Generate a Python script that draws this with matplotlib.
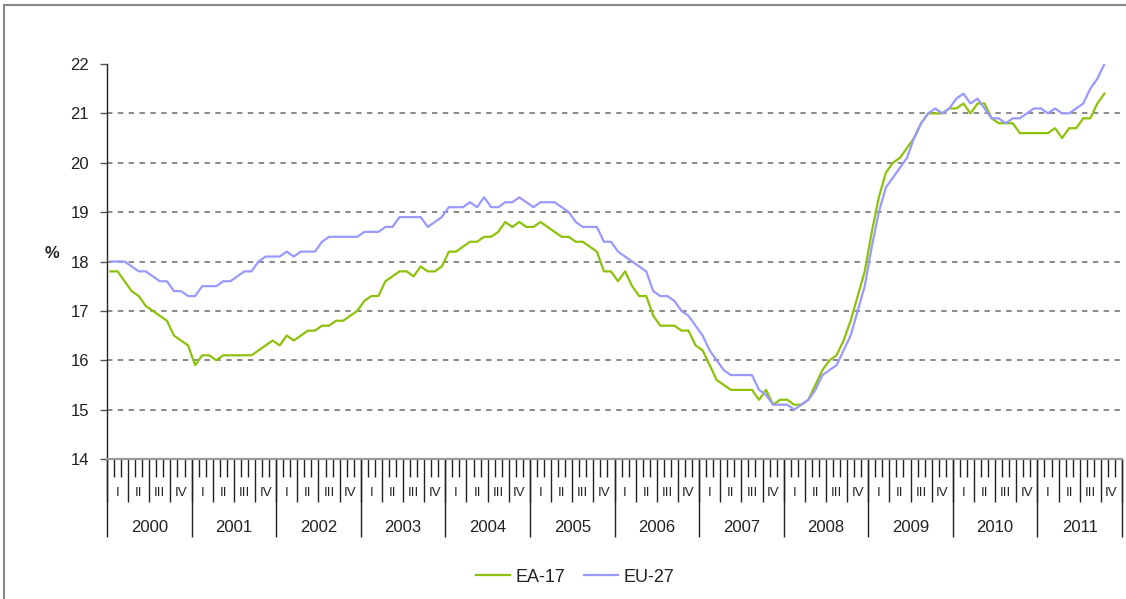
import matplotlib
matplotlib.use("Agg")
import matplotlib.pyplot as plt
from matplotlib.lines import Line2D
import numpy as np

plt.rcParams['font.family'] = ['Liberation Sans', 'DejaVu Sans']

years = ['2000', '2001', '2002', '2003', '2004', '2005', '2006', '2007', '2008', '2009', '2010', '2011']
quarters = ['I', 'II', 'III', 'IV']

# Monthly youth unemployment rate (%), Jan 2000 - Oct 2011
ea17 = [17.8, 17.8, 17.6, 17.4, 17.3, 17.1, 17.0, 16.9, 16.8, 16.5, 16.4, 16.3,
        15.9, 16.1, 16.1, 16.0, 16.1, 16.1, 16.1, 16.1, 16.1, 16.2, 16.3, 16.4,
        16.3, 16.5, 16.4, 16.5, 16.6, 16.6, 16.7, 16.7, 16.8, 16.8, 16.9, 17.0,
        17.2, 17.3, 17.3, 17.6, 17.7, 17.8, 17.8, 17.7, 17.9, 17.8, 17.8, 17.9,
        18.2, 18.2, 18.3, 18.4, 18.4, 18.5, 18.5, 18.6, 18.8, 18.7, 18.8, 18.7,
        18.7, 18.8, 18.7, 18.6, 18.5, 18.5, 18.4, 18.4, 18.3, 18.2, 17.8, 17.8,
        17.6, 17.8, 17.5, 17.3, 17.3, 16.9, 16.7, 16.7, 16.7, 16.6, 16.6, 16.3,
        16.2, 15.9, 15.6, 15.5, 15.4, 15.4, 15.4, 15.4, 15.2, 15.4, 15.1, 15.2,
        15.2, 15.1, 15.1, 15.2, 15.5, 15.8, 16.0, 16.1, 16.4, 16.8, 17.3, 17.8,
        18.6, 19.3, 19.8, 20.0, 20.1, 20.3, 20.5, 20.8, 21.0, 21.0, 21.0, 21.1,
        21.1, 21.2, 21.0, 21.2, 21.2, 20.9, 20.8, 20.8, 20.8, 20.6, 20.6, 20.6,
        20.6, 20.6, 20.7, 20.5, 20.7, 20.7, 20.9, 20.9, 21.2, 21.4]

eu27 = [18.0, 18.0, 18.0, 17.9, 17.8, 17.8, 17.7, 17.6, 17.6, 17.4, 17.4, 17.3,
        17.3, 17.5, 17.5, 17.5, 17.6, 17.6, 17.7, 17.8, 17.8, 18.0, 18.1, 18.1,
        18.1, 18.2, 18.1, 18.2, 18.2, 18.2, 18.4, 18.5, 18.5, 18.5, 18.5, 18.5,
        18.6, 18.6, 18.6, 18.7, 18.7, 18.9, 18.9, 18.9, 18.9, 18.7, 18.8, 18.9,
        19.1, 19.1, 19.1, 19.2, 19.1, 19.3, 19.1, 19.1, 19.2, 19.2, 19.3, 19.2,
        19.1, 19.2, 19.2, 19.2, 19.1, 19.0, 18.8, 18.7, 18.7, 18.7, 18.4, 18.4,
        18.2, 18.1, 18.0, 17.9, 17.8, 17.4, 17.3, 17.3, 17.2, 17.0, 16.9, 16.7,
        16.5, 16.2, 16.0, 15.8, 15.7, 15.7, 15.7, 15.7, 15.4, 15.3, 15.1, 15.1,
        15.1, 15.0, 15.1, 15.2, 15.4, 15.7, 15.8, 15.9, 16.2, 16.5, 17.0, 17.5,
        18.3, 19.0, 19.5, 19.7, 19.9, 20.1, 20.5, 20.8, 21.0, 21.1, 21.0, 21.1,
        21.3, 21.4, 21.2, 21.3, 21.1, 20.9, 20.9, 20.8, 20.9, 20.9, 21.0, 21.1,
        21.1, 21.0, 21.1, 21.0, 21.0, 21.1, 21.2, 21.5, 21.7, 22.0]

series_names = ['EA-17', 'EU-27']
series_colors = ['#8CC20A', '#9999FF']

W, H = 1126, 599
fig = plt.figure(figsize=(W / 100, H / 100), dpi=100)
ax_l, ax_r, ax_t, ax_b = 107, 1122, 64, 459
ax = fig.add_axes([ax_l / W, 1 - ax_b / H, (ax_r - ax_l) / W, (ax_b - ax_t) / H])

months = np.arange(len(ea17))
for vals, name, col in zip([ea17, eu27], series_names, series_colors):
    ax.plot(months, vals, color=col, lw=1.6, label=name, solid_joinstyle='round')

n_months = len(years) * 12
ax.set_xlim(-0.5, n_months - 0.5)
ax.set_ylim(14, 22)

# y axis
ax.set_yticks(np.arange(14, 23, 1))
ax.tick_params(axis='y', length=5, width=1, color='#555555', labelsize=12,
               labelcolor='#222222', pad=8)
for v in range(15, 22):
    ax.axhline(v, color='#808080', lw=1.3, ls=(0, (3, 3)), zorder=0)
ax.set_ylabel('%', rotation=0, fontweight='bold', fontsize=12, color='#222222')
ax.yaxis.set_label_coords(-0.054, 0.5)

# spines
for s in ['top', 'right']:
    ax.spines[s].set_visible(False)
ax.spines['left'].set_color('#222222')
ax.spines['left'].set_linewidth(1.0)
ax.spines['bottom'].set_color('#999999')
ax.spines['bottom'].set_linewidth(1.6)

# x ticks: months (minor), quarters (major), years (secondary axis)
bounds = np.arange(n_months + 1) - 0.5
ax.set_xticks(bounds[::3])
ax.set_xticks(bounds, minor=True)
ax.set_xticklabels([])
ax.tick_params(axis='x', which='major', length=31, width=1.0, color='#222222')
ax.tick_params(axis='x', which='minor', length=13, width=1.0, color='#222222')

sec = ax.secondary_xaxis('bottom')
sec.set_xticks(bounds[::12])
sec.set_xticklabels([])
sec.tick_params(axis='x', length=56, width=1.0, color='#222222')
sec.spines['bottom'].set_visible(False)

trans = ('data', 'axes fraction')
for y_i, yr in enumerate(years):
    for q_i, q in enumerate(quarters):
        xc = y_i * 12 + q_i * 3 + 1
        ax.annotate(q, xy=(xc, 0), xycoords=trans, xytext=(0, -24.5),
                    textcoords='offset points', ha='center', va='center',
                    fontsize=9.5, color='#222222')
    ax.annotate(yr, xy=(y_i * 12 + 5.5, 0), xycoords=trans, xytext=(0, -49),
                textcoords='offset points', ha='center', va='center',
                fontsize=12, color='#222222')

fig.legend(loc='center', bbox_to_anchor=(575 / W, 1 - 577 / H), ncol=2, frameon=False,
           fontsize=13, handlelength=1.9, handletextpad=0.3, columnspacing=1.0,
           labelcolor='#222222')

# outer frame (top and left edges)
fig.add_artist(Line2D([4 / W, 4 / W], [0, 1 - 5 / H], color='#888888', lw=1.5,
                      transform=fig.transFigure))
fig.add_artist(Line2D([4 / W, 1], [1 - 5 / H, 1 - 5 / H], color='#888888', lw=1.5,
                      transform=fig.transFigure))

fig.savefig('out.png', dpi=100)
